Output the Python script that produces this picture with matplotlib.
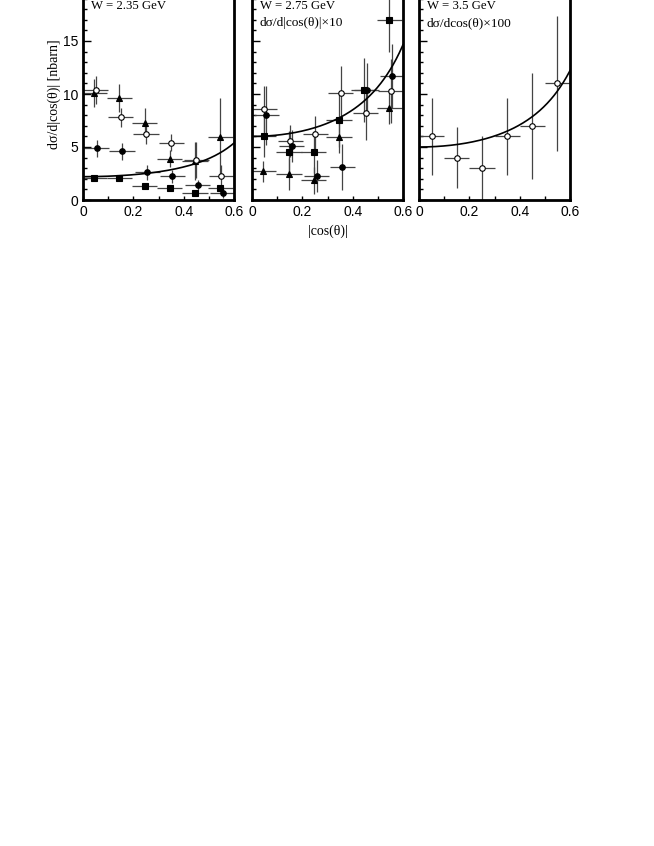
import numpy as np
import matplotlib
matplotlib.use('Agg')
import matplotlib.pyplot as plt
from matplotlib.ticker import MultipleLocator

plt.rcParams['font.family'] = ['Liberation Sans', 'DejaVu Sans']

# bin half width in |cos(theta)|
xerr = 0.05

# W = 2.35 GeV
p1_tri_x = [0.045, 0.145, 0.245, 0.345, 0.445, 0.545]
p1_tri_y = [10.1, 9.6, 7.3, 3.9, 3.65, 5.9]
p1_tri_e = [1.3, 1.3, 1.4, 0.8, 1.8, 3.7]
p1_open_x = [0.05, 0.15, 0.25, 0.35, 0.45, 0.55]
p1_open_y = [10.4, 7.8, 6.2, 5.4, 3.8, 2.3]
p1_open_e = [1.3, 0.9, 0.9, 0.8, 1.7, 1.0]
p1_dot_x = [0.055, 0.155, 0.255, 0.355, 0.455, 0.555]
p1_dot_y = [4.9, 4.6, 2.6, 2.25, 1.4, 0.7]
p1_dot_e = [0.8, 0.8, 0.7, 0.6, 0.5, 0.5]
p1_sq_x = [0.045, 0.145, 0.245, 0.345, 0.445, 0.545]
p1_sq_y = [2.1, 2.05, 1.35, 1.1, 0.7, 1.1]
p1_sq_e = [0.2, 0.2, 0.2, 0.2, 0.2, 0.3]

# W = 2.75 GeV (x10)
p2_open_x = [0.049, 0.152, 0.251, 0.353, 0.452, 0.552]
p2_open_y = [8.6, 5.6, 6.2, 10.1, 8.2, 10.3]
p2_open_e = [2.2, 1.5, 1.7, 2.5, 2.5, 3.0]
p2_dot_x = [0.056, 0.158, 0.257, 0.358, 0.455, 0.557]
p2_dot_y = [8.0, 5.1, 2.3, 3.1, 10.4, 11.7]
p2_dot_e = [2.8, 1.5, 1.5, 2.2, 2.5, 3.0]
p2_sq_x = [0.046, 0.147, 0.246, 0.346, 0.445, 0.546]
p2_sq_y = [6.07, 4.5, 4.5, 7.5, 10.4, 17.0]
p2_sq_e = [2.0, 2.0, 2.0, 2.5, 3.0, 3.0]
p2_tri_x = [0.045, 0.147, 0.246, 0.346, 0.546]
p2_tri_y = [2.7, 2.45, 1.85, 5.9, 8.65]
p2_tri_e = [1.0, 1.5, 1.3, 1.5, 1.5]

# W = 3.5 GeV (x100)
p3_open_x = [0.05, 0.15, 0.25, 0.35, 0.45, 0.55]
p3_open_y = [6.0, 4.0, 3.0, 6.0, 7.0, 11.0]
p3_open_e = [3.6, 2.9, 3.0, 3.6, 5.0, 6.4]

# fit normalisation a / (1 - x^2)^2 per panel
fit_a = [2.2, 6.0, 5.0]
panel_titles = ['W = 2.35 GeV', 'W = 2.75 GeV', 'W = 3.5 GeV']
panel_notes = ['', 'dσ/d|cos(θ)|×10', 'dσ/dcos(θ)×100']

fig = plt.figure(figsize=(6.54, 8.46), dpi=100)
lefts = [83, 252, 419]
axes = []
for l in lefts:
    ax = fig.add_axes([l / 654, 646 / 846, 151 / 654, 212 / 846])
    axes.append(ax)

ebkw = dict(ecolor='#444444', elinewidth=0.9, capsize=0, linestyle='none')


def draw(ax, x, y, e, marker, face, ms):
    ax.errorbar(x, y, xerr=xerr, yerr=e, marker=marker, mfc=face, mec='black',
                mew=0.8, ms=ms, color='black', **ebkw)


draw(axes[0], p1_tri_x, p1_tri_y, p1_tri_e, '^', 'black', 4)
draw(axes[0], p1_open_x, p1_open_y, p1_open_e, 'o', 'white', 4)
draw(axes[0], p1_dot_x, p1_dot_y, p1_dot_e, 'o', 'black', 4)
draw(axes[0], p1_sq_x, p1_sq_y, p1_sq_e, 's', 'black', 4)

draw(axes[1], p2_open_x, p2_open_y, p2_open_e, 'o', 'white', 4)
draw(axes[1], p2_dot_x, p2_dot_y, p2_dot_e, 'o', 'black', 4)
draw(axes[1], p2_sq_x, p2_sq_y, p2_sq_e, 's', 'black', 4.5)
draw(axes[1], p2_tri_x, p2_tri_y, p2_tri_e, '^', 'black', 4)

draw(axes[2], p3_open_x, p3_open_y, p3_open_e, 'o', 'white', 4)

xs = np.linspace(0, 0.6, 200)
for i, ax in enumerate(axes):
    ax.plot(xs, fit_a[i] / (1 - xs ** 2) ** 2, color='black', lw=1.2)
    ax.set_xlim(0, 0.6)
    ax.set_ylim(0, 20)
    ax.xaxis.set_major_locator(MultipleLocator(0.2))
    ax.xaxis.set_minor_locator(MultipleLocator(0.1))
    ax.yaxis.set_major_locator(MultipleLocator(5))
    ax.yaxis.set_minor_locator(MultipleLocator(1))
    ax.tick_params(which='both', direction='in', top=False, right=False,
                   width=1, labelsize=10)
    ax.tick_params(which='major', length=6)
    ax.tick_params(which='minor', length=3)
    ax.tick_params(axis='x', which='both', length=3)
    ax.set_xticks([0, 0.2, 0.4, 0.6])
    ax.set_xticklabels(['0', '0.2', '0.4', '0.6'])
    for s in ax.spines.values():
        s.set_linewidth(2)
    ax.text(0.05, 0.915, panel_titles[i], transform=ax.transAxes,
            family='Liberation Serif', fontsize=9.2, va='center', ha='left')
    if panel_notes[i]:
        ax.text(0.05, 0.835, panel_notes[i], transform=ax.transAxes,
                family='Liberation Serif', fontsize=9.6, va='center', ha='left')
    if i > 0:
        ax.set_yticklabels([])

axes[0].set_yticks([0, 5, 10, 15])
axes[0].set_ylabel('dσ/d|cos(θ)| [nbarn]', family='Liberation Serif',
                   fontsize=10, labelpad=1)
axes[1].set_xlabel('|cos(θ)|', family='Liberation Serif', fontsize=10, labelpad=4)

fig.savefig('out.png', dpi=100)
